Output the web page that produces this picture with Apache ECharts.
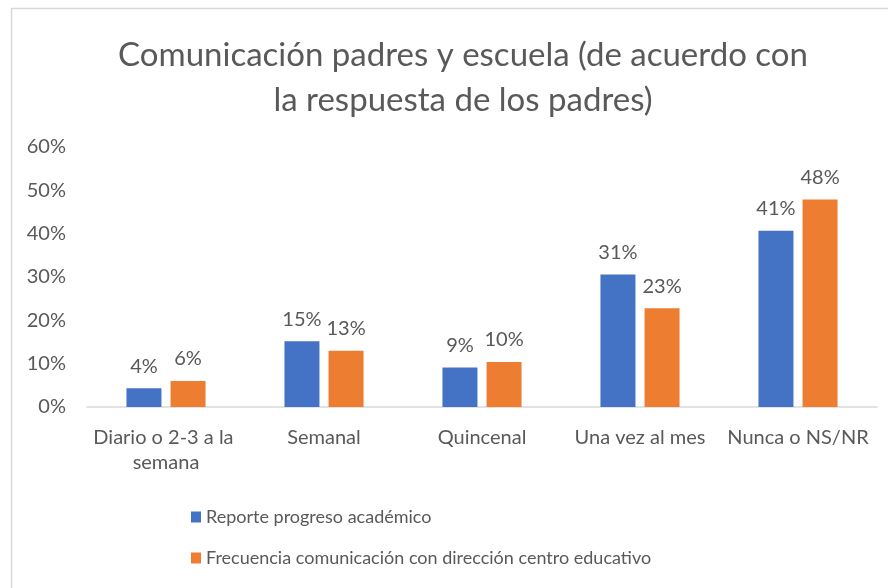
<!DOCTYPE html>
<html><head><meta charset="utf-8">
<script src="https://cdn.jsdelivr.net/npm/echarts@6/dist/echarts.min.js"></script>
<style>html,body{margin:0;padding:0;background:#fff}#c{width:888px;height:588px}</style>
</head><body><div id="c"></div>
<script>
const titleText = 'Comunicación padres y escuela (de acuerdo con\nla respuesta de los padres)';
const categories = ['Diario o 2-3 a la semana', 'Semanal', 'Quincenal', 'Una vez al mes', 'Nunca o NS/NR'];
const seriesNames = ['Reporte progreso académico', 'Frecuencia comunicación con dirección centro educativo'];
const reporteValues = [4.3, 15.2, 9.1, 30.6, 40.7];
const frecuenciaValues = [6.0, 13.0, 10.4, 22.8, 47.9];
const yTicks = [0, 10, 20, 30, 40, 50, 60];

const FONT = 'Lato';
const GREY = '#595959';
const chart = echarts.init(document.getElementById('c'), null, {renderer: 'canvas'});
const labelCfg = {
  show: true, position: 'top', distance: 12, color: GREY, fontFamily: FONT, fontSize: 20,
  formatter: p => Math.round(p.value) + '%'
};
chart.setOption({
  animation: false,
  backgroundColor: '#fff',
  graphic: [{
    type: 'rect', shape: {x: 11.5, y: 8.5, width: 900, height: 600},
    style: {fill: 'none', stroke: '#d9d9d9', lineWidth: 1.5}, silent: true
  }],
  title: {
    text: titleText, left: 458, textAlign: 'center', top: 28,
    textStyle: {fontFamily: FONT, fontSize: 33, fontWeight: 'normal', color: GREY, lineHeight: 45}
  },
  grid: {left: 87, right: 11, top: 147, bottom: 181, containLabel: false},
  legend: {
    orient: 'vertical', left: 186, top: 502, itemWidth: 10, itemHeight: 11, itemGap: 21,
    icon: 'rect',
    textStyle: {fontFamily: FONT, fontSize: 18, color: GREY, lineHeight: 20}
  },
  xAxis: {
    type: 'category', data: categories,
    axisLine: {lineStyle: {color: '#d9d9d9', width: 1.5}},
    axisTick: {show: false},
    axisLabel: {
      interval: 0, margin: 18, color: GREY, fontFamily: FONT, fontSize: 20, lineHeight: 25,
      width: 152, overflow: 'break'
    }
  },
  yAxis: {
    type: 'value', min: yTicks[0], max: yTicks[yTicks.length - 1], interval: 10,
    axisLine: {show: false}, axisTick: {show: false}, splitLine: {show: false},
    axisLabel: {margin: 21, color: GREY, fontFamily: FONT, fontSize: 20, formatter: v => v + '%'}
  },
  series: [
    {name: seriesNames[0], type: 'bar', data: reporteValues, barWidth: 35, barGap: '26%',
     itemStyle: {color: '#4472c4'}, label: labelCfg},
    {name: seriesNames[1], type: 'bar', data: frecuenciaValues, barWidth: 35,
     itemStyle: {color: '#ed7d31'}, label: labelCfg}
  ]
});
</script></body></html>
